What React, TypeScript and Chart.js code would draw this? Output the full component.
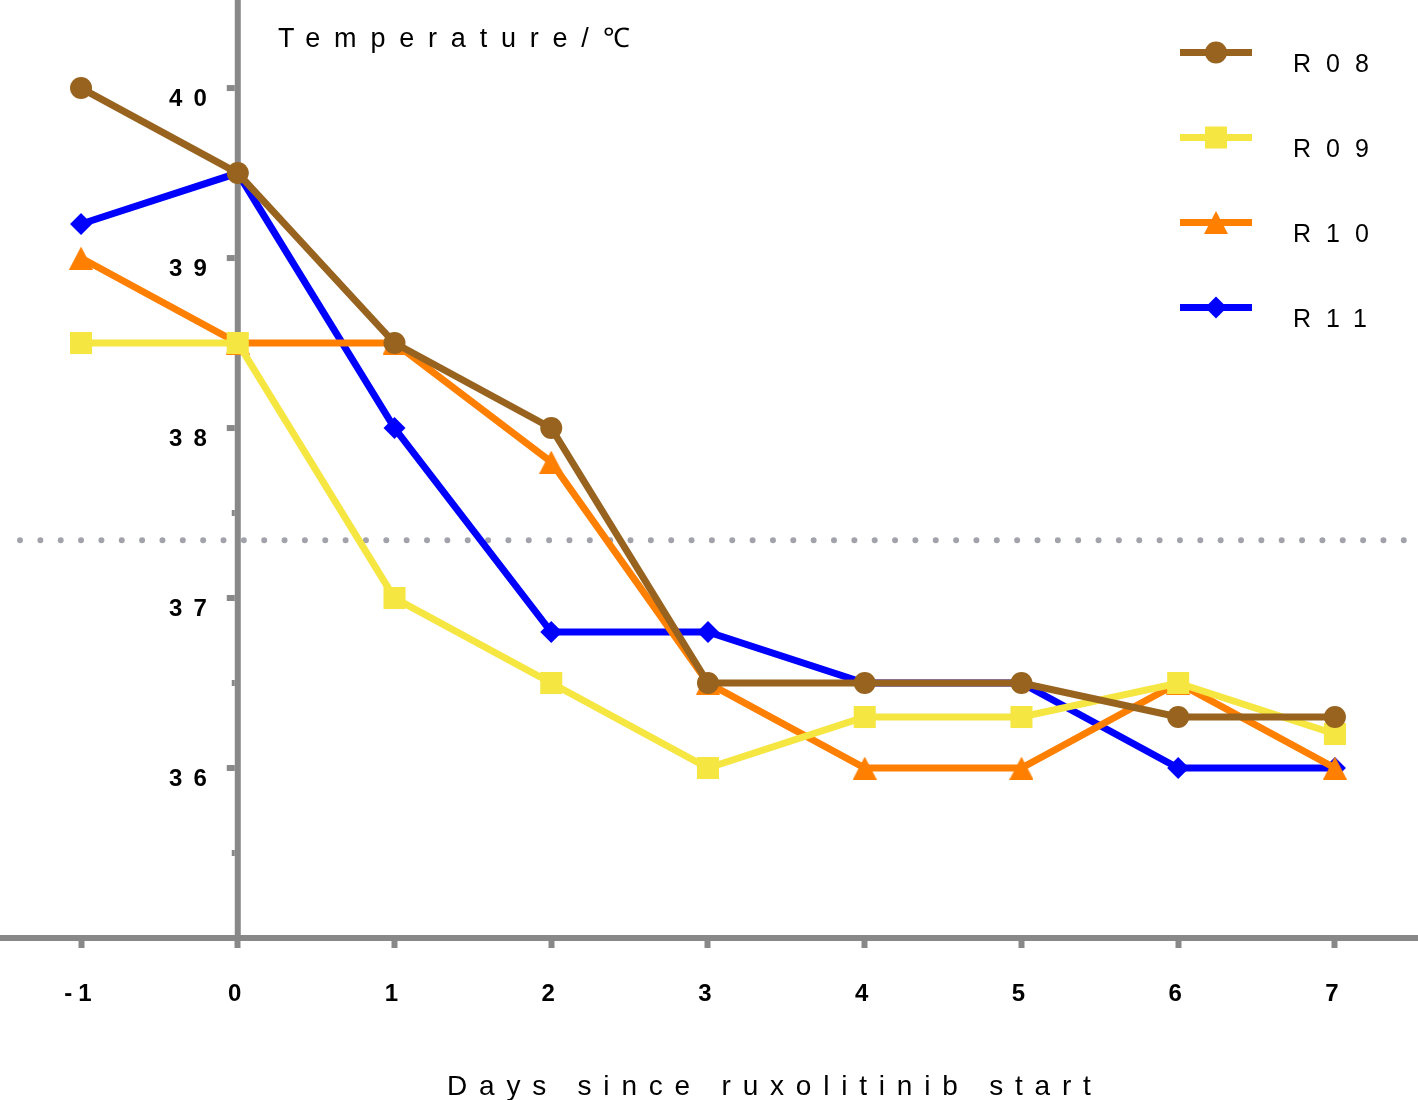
import React, { useEffect, useRef } from 'react';
import { Chart, registerables } from 'chart.js';

Chart.register(...registerables);

// ---------- data ----------
const days = [-1, 0, 1, 2, 3, 4, 5, 6, 7];
const r08 = [40, 39.5, 38.5, 38, 36.5, 36.5, 36.5, 36.3, 36.3];
const r09 = [38.5, 38.5, 37, 36.5, 36, 36.3, 36.3, 36.5, 36.2];
const r10 = [39, 38.5, 38.5, 37.8, 36.5, 36, 36, 36.5, 36];
const r11 = [39.2, 39.5, 38, 36.8, 36.8, 36.5, 36.5, 36, 36];
const seriesNames = ['R08', 'R09', 'R10', 'R11'];
const yTickValues = [36, 37, 38, 39, 40];
const yMinorTickValues = [35.5, 36.5, 37.5, 38.5, 39.5];
const referenceLineValue = 37.34;
const yTitleText = 'Temperature/℃';
const xTitleText = 'Days since ruxolitinib start';

// ---------- styles ----------
const BROWN = '#98631f';
const YELLOW = '#f5e642';
const ORANGE = '#ff7f00';
const BLUE = '#0000ff';
const AXIS_COLOR = '#888888';
const DOT_COLOR = '#a2a2aa';
const FONT = '"Liberation Sans", Arial, sans-serif';
const X_MIN = -1.517;
const X_MAX = 7.53;
const Y_MIN = 35;
const Y_MAX = 40.518;

function makeTriangle(color: string) {
  const c = document.createElement('canvas');
  c.width = 24;
  c.height = 23;
  const g = c.getContext('2d')!;
  g.fillStyle = color;
  g.beginPath();
  g.moveTo(0, 23);
  g.lineTo(12, 0);
  g.lineTo(24, 23);
  g.closePath();
  g.fill();
  return c;
}

function drawMarker(ctx: CanvasRenderingContext2D, style: any, x: number, y: number, color: string) {
  ctx.fillStyle = color;
  if (style === 'circle') {
    ctx.beginPath();
    ctx.arc(x, y, 11, 0, Math.PI * 2);
    ctx.fill();
  } else if (style === 'rect') {
    ctx.fillRect(x - 11, y - 11, 22, 22);
  } else if (style === 'rectRot') {
    ctx.beginPath();
    ctx.moveTo(x - 11, y);
    ctx.lineTo(x, y - 11);
    ctx.lineTo(x + 11, y);
    ctx.lineTo(x, y + 11);
    ctx.closePath();
    ctx.fill();
  } else if (style && style.width) {
    ctx.drawImage(style, x - style.width / 2, y - style.height / 2);
  }
}

const customPlugin = {
  id: 'customDecor',
  beforeDraw(chart: any) {
    chart.ctx.letterSpacing = '6px';
  },
  beforeDatasetsDraw(chart: any) {
    const { ctx, chartArea, scales } = chart;
    const xs = scales.x;
    const ys = scales.y;
    ctx.save();
    ctx.letterSpacing = '0px';
    // dotted reference line
    const ry = ys.getPixelForValue(referenceLineValue);
    ctx.strokeStyle = DOT_COLOR;
    ctx.lineWidth = 6;
    ctx.lineCap = 'round';
    ctx.setLineDash([0, 20.35]);
    ctx.beginPath();
    ctx.moveTo(20, ry);
    ctx.lineTo(chartArea.right, ry);
    ctx.stroke();
    ctx.setLineDash([]);
    ctx.lineCap = 'butt';
    // vertical y axis at day 0
    const ax = xs.getPixelForValue(0);
    ctx.strokeStyle = AXIS_COLOR;
    ctx.lineWidth = 6;
    ctx.beginPath();
    ctx.moveTo(ax, chartArea.top);
    ctx.lineTo(ax, chartArea.bottom);
    ctx.stroke();
    for (const v of yTickValues) {
      const py = ys.getPixelForValue(v);
      ctx.beginPath();
      ctx.moveTo(ax - 3, py);
      ctx.lineTo(ax - 11, py);
      ctx.stroke();
    }
    for (const v of yMinorTickValues) {
      const py = ys.getPixelForValue(v);
      ctx.beginPath();
      ctx.moveTo(ax - 3, py);
      ctx.lineTo(ax - 6, py);
      ctx.stroke();
    }
    // y tick labels
    ctx.fillStyle = '#000';
    ctx.font = 'bold 24px ' + FONT;
    ctx.letterSpacing = '11px';
    ctx.textAlign = 'right';
    ctx.textBaseline = 'alphabetic';
    for (const v of yTickValues) {
      const py = ys.getPixelForValue(v);
      ctx.fillText(String(v), ax - 31 + 11, py + 18);
    }
    ctx.restore();
  },
  afterDraw(chart: any) {
    const { ctx } = chart;
    ctx.save();
    ctx.fillStyle = '#000';
    ctx.textAlign = 'left';
    ctx.textBaseline = 'alphabetic';
    // y title
    ctx.font = '27px ' + FONT;
    ctx.letterSpacing = '13.8px';
    ctx.fillText(yTitleText, 278, 47);
    // x title
    ctx.font = '28px ' + FONT;
    ctx.letterSpacing = '11.8px';
    ctx.fillText(xTitleText, 447, 1095);
    // legend
    const datasets = chart.data.datasets;
    for (let i = 0; i < seriesNames.length; i++) {
      const ds = datasets[i];
      const ly = 52.5 + i * 85;
      ctx.strokeStyle = ds.borderColor;
      ctx.lineWidth = 7;
      ctx.beginPath();
      ctx.moveTo(1180, ly);
      ctx.lineTo(1252, ly);
      ctx.stroke();
      drawMarker(ctx, ds.pointStyle, 1216, ly, ds.borderColor);
      ctx.fillStyle = '#000';
      ctx.font = '25px ' + FONT;
      ctx.letterSpacing = '15px';
      ctx.fillText(seriesNames[i], 1293, ly + 19);
    }
    ctx.restore();
    ctx.letterSpacing = '0px';
  },
};

export default function App() {
  const ref = useRef<HTMLCanvasElement>(null);
  useEffect(() => {
    const canvas = ref.current!;
    const triangle = makeTriangle(ORANGE);
    const series = [r08, r09, r10, r11];
    const colors = [BROWN, YELLOW, ORANGE, BLUE];
    const styles: any[] = ['circle', 'rect', triangle, 'rectRot'];
    const radii = [11, 15.6, 12, 11];
    const chart = new Chart(canvas, {
      type: 'line',
      data: {
        datasets: series.map((vals, i) => ({
          label: seriesNames[i],
          data: days.map((d, j) => ({ x: d, y: vals[j] })),
          borderColor: colors[i],
          backgroundColor: colors[i],
          borderWidth: 7,
          pointStyle: styles[i],
          pointRadius: radii[i],
          pointBorderWidth: 0,
          pointBackgroundColor: colors[i],
          tension: 0,
          fill: false,
        })),
      },
      options: {
        responsive: false,
        animation: false,
        layout: { padding: 0, autoPadding: false },
        plugins: {
          legend: { display: false },
          tooltip: { enabled: false },
          title: { display: false },
        },
        scales: {
          x: {
            type: 'linear',
            position: 'bottom',
            min: X_MIN,
            max: X_MAX,
            afterFit: (s: any) => {
              s.height = 162;
              s.paddingLeft = 0;
              s.paddingRight = 0;
            },
            border: { display: true, color: AXIS_COLOR, width: 6 },
            grid: {
              display: true,
              drawOnChartArea: false,
              drawTicks: true,
              tickLength: 10,
              tickWidth: 6,
              tickColor: AXIS_COLOR,
            },
            ticks: {
              stepSize: 1,
              includeBounds: false,
              autoSkip: false,
              maxRotation: 0,
              padding: 32,
              color: '#000',
              font: { family: FONT, size: 24, weight: 'bold' },
            },
          },
          y: {
            type: 'linear',
            display: false,
            min: Y_MIN,
            max: Y_MAX,
          },
        },
      },
      plugins: [customPlugin],
    } as any);
    return () => chart.destroy();
  }, []);
  return (
    <div style={{ position: 'absolute', left: 0, top: 0, width: 1418, height: 1100, background: '#fff' }}>
      <canvas ref={ref} width={1418} height={1100} style={{ display: 'block', width: 1418, height: 1100 }} />
    </div>
  );
}
